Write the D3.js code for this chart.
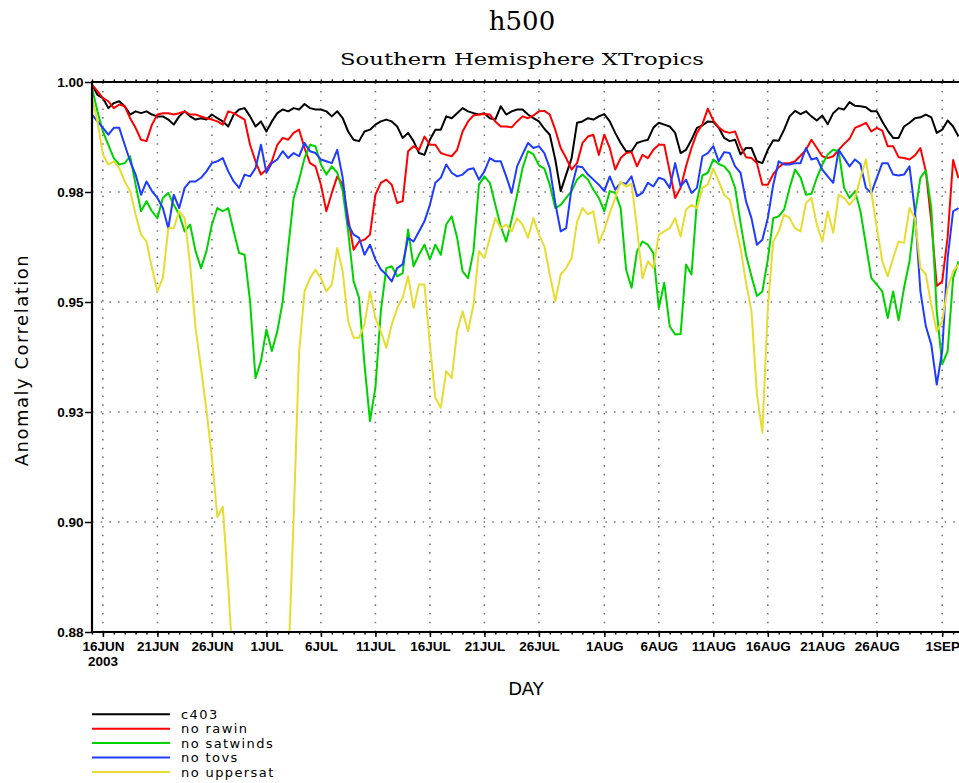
<!DOCTYPE html>
<html>
<head>
<meta charset="utf-8">
<script src="https://cdn.jsdelivr.net/npm/d3@7"></script>
<style>
  body { margin: 0; background: #fff; }
  svg { display: block; }
  .tick-label { font-family: "Liberation Sans", Arial, sans-serif; font-weight: bold; font-size: 13.5px; fill: #000; }
</style>
</head>
<body>
<svg id="chart" width="959" height="783"></svg>
<script>
// ---- data: 12-hourly anomaly correlation, starting 15 JUN 2003 00Z ----
const startTime = new Date(Date.UTC(2003, 5, 15, 0));
const stepHours = 12;

const seriesNames = ["c403", "no rawin", "no satwinds", "no tovs", "no uppersat"];

const c403 = [
  0.9994,0.9972,0.9965,0.9943,0.9954,0.9958,0.9947,0.9929,0.9936,0.9932,0.9936,0.9929,0.9925,0.9925,0.9918,0.9907,0.9925,0.9936,0.9925,0.9918,0.9921,0.9918,0.9929,0.9921,0.9914,0.9903,0.9929,
  0.9940,0.9943,0.9925,0.9903,0.9914,0.9892,0.9914,0.9932,0.9940,0.9936,0.9943,0.9940,0.9952,0.9943,0.9940,0.9940,0.9936,0.9925,0.9936,0.9921,0.9892,0.9874,0.9871,0.9892,0.9896,0.9907,0.9914,
  0.9918,0.9914,0.9903,0.9878,0.9889,0.9871,0.9845,0.9841,0.9874,0.9896,0.9896,0.9925,0.9921,0.9932,0.9943,0.9936,0.9932,0.9929,0.9932,0.9921,0.9918,0.9947,0.9929,0.9936,0.9940,0.9940,0.9929,
  0.9921,0.9914,0.9898,0.9885,0.9831,0.9762,0.9798,0.9834,0.9911,0.9914,0.9921,0.9918,0.9925,0.9930,0.9914,0.9889,0.9867,0.9849,0.9849,0.9867,0.9871,0.9874,0.9900,0.9911,0.9907,0.9903,0.9889,
  0.9845,0.9852,0.9874,0.9900,0.9905,0.9914,0.9913,0.9900,0.9878,0.9871,0.9874,0.9842,0.9856,0.9856,0.9827,0.9823,0.9852,0.9873,0.9872,0.9896,0.9925,0.9937,0.9930,0.9936,0.9925,0.9916,
  0.9927,0.9908,0.9932,0.9943,0.9940,0.9956,0.9948,0.9947,0.9945,0.9936,0.9936,0.9914,0.9894,0.9878,0.9878,0.9903,0.9911,0.9921,0.9923,0.9929,0.9923,0.9889,0.9896,0.9916,0.9903,0.9881
];

const noRawin = [
  0.9994,0.9980,0.9965,0.9958,0.9943,0.9951,0.9947,0.9921,0.9900,0.9874,0.9871,0.9907,0.9929,0.9932,0.9932,0.9929,0.9932,0.9936,0.9929,0.9929,0.9925,0.9921,0.9918,0.9914,0.9907,0.9936,0.9932,
  0.9925,0.9918,0.9863,0.9827,0.9798,0.9809,0.9827,0.9863,0.9878,0.9874,0.9889,0.9896,0.9856,0.9823,0.9816,0.9776,0.9718,0.9758,0.9794,0.9776,0.9703,0.9634,0.9652,0.9656,0.9667,0.9754,0.9780,
  0.9787,0.9776,0.9736,0.9740,0.9849,0.9860,0.9852,0.9881,0.9863,0.9863,0.9845,0.9841,0.9838,0.9852,0.9892,0.9914,0.9927,0.9929,0.9930,0.9929,0.9914,0.9903,0.9903,0.9901,0.9914,0.9925,0.9921,
  0.9927,0.9936,0.9937,0.9929,0.9896,0.9856,0.9834,0.9809,0.9823,0.9867,0.9881,0.9885,0.9841,0.9885,0.9856,0.9809,0.9834,0.9845,0.9847,0.9816,0.9841,0.9834,0.9852,0.9863,0.9863,0.9805,0.9747,
  0.9769,0.9816,0.9856,0.9889,0.9908,0.9942,0.9916,0.9901,0.9892,0.9889,0.9892,0.9860,0.9836,0.9834,0.9823,0.9776,0.9776,0.9799,0.9814,0.9823,0.9823,0.9827,0.9839,0.9852,0.9874,0.9856,
  0.9838,0.9834,0.9838,0.9852,0.9865,0.9876,0.9900,0.9905,0.9911,0.9892,0.9900,0.9894,0.9860,0.9860,0.9836,0.9834,0.9831,0.9840,0.9856,0.9805,0.9696,0.9555,0.9565,0.9662,0.9830,0.9790
];

const noSatwinds = [
  0.9987,0.9936,0.9892,0.9863,0.9834,0.9820,0.9823,0.9838,0.9776,0.9718,0.9740,0.9718,0.9703,0.9747,0.9758,0.9732,0.9711,0.9674,0.9689,0.9631,0.9594,0.9631,0.9689,0.9725,0.9718,0.9725,0.9674,
  0.9627,0.9623,0.9522,0.9354,0.9391,0.9460,0.9413,0.9456,0.9522,0.9638,0.9747,0.9787,0.9834,0.9863,0.9860,0.9820,0.9798,0.9816,0.9802,0.9762,0.9674,0.9565,0.9529,0.9384,0.9260,0.9333,0.9500,
  0.9594,0.9598,0.9576,0.9583,0.9678,0.9598,0.9623,0.9645,0.9613,0.9645,0.9623,0.9689,0.9707,0.9660,0.9587,0.9572,0.9631,0.9776,0.9794,0.9780,0.9732,0.9685,0.9652,0.9700,0.9754,0.9812,0.9849,
  0.9842,0.9818,0.9811,0.9776,0.9725,0.9732,0.9747,0.9762,0.9787,0.9798,0.9787,0.9765,0.9747,0.9718,0.9762,0.9758,0.9725,0.9591,0.9551,0.9631,0.9652,0.9645,0.9627,0.9507,0.9562,0.9467,0.9449,
  0.9450,0.9602,0.9580,0.9740,0.9796,0.9802,0.9831,0.9821,0.9816,0.9802,0.9769,0.9692,0.9623,0.9576,0.9533,0.9543,0.9613,0.9703,0.9707,0.9722,0.9769,0.9809,0.9792,0.9754,0.9756,0.9791,
  0.9820,0.9842,0.9852,0.9849,0.9769,0.9747,0.9762,0.9718,0.9645,0.9572,0.9558,0.9543,0.9485,0.9543,0.9480,0.9551,0.9609,0.9711,0.9791,0.9807,0.9725,0.9500,0.9384,0.9413,0.9572,0.9609
];

const noTovs = [
  0.9929,0.9914,0.9900,0.9885,0.9900,0.9900,0.9863,0.9827,0.9798,0.9754,0.9783,0.9762,0.9747,0.9725,0.9681,0.9754,0.9725,0.9769,0.9783,0.9783,0.9791,0.9805,0.9823,0.9827,0.9834,0.9805,0.9783,
  0.9769,0.9798,0.9794,0.9812,0.9863,0.9802,0.9823,0.9831,0.9849,0.9834,0.9845,0.9838,0.9867,0.9849,0.9845,0.9831,0.9827,0.9823,0.9852,0.9791,0.9689,0.9667,0.9660,0.9623,0.9645,0.9613,0.9591,
  0.9580,0.9565,0.9594,0.9602,0.9660,0.9652,0.9674,0.9696,0.9732,0.9780,0.9791,0.9820,0.9802,0.9794,0.9798,0.9809,0.9812,0.9787,0.9805,0.9834,0.9827,0.9827,0.9794,0.9758,0.9816,0.9842,0.9867,
  0.9856,0.9860,0.9845,0.9812,0.9736,0.9674,0.9681,0.9769,0.9816,0.9814,0.9798,0.9787,0.9776,0.9762,0.9794,0.9765,0.9780,0.9778,0.9794,0.9751,0.9758,0.9780,0.9772,0.9791,0.9787,0.9769,0.9823,
  0.9772,0.9787,0.9758,0.9769,0.9838,0.9845,0.9860,0.9827,0.9847,0.9845,0.9816,0.9802,0.9740,0.9703,0.9645,0.9656,0.9703,0.9776,0.9827,0.9820,0.9820,0.9823,0.9823,0.9856,0.9831,0.9834,
  0.9809,0.9794,0.9780,0.9852,0.9834,0.9816,0.9831,0.9821,0.9769,0.9758,0.9791,0.9823,0.9823,0.9798,0.9796,0.9798,0.9816,0.9718,0.9543,0.9467,0.9427,0.9340,0.9413,0.9616,0.9718,0.9725
];

const noUppersat = [
  0.9965,0.9914,0.9842,0.9820,0.9827,0.9812,0.9783,0.9762,0.9711,0.9667,0.9652,0.9594,0.9543,0.9572,0.9681,0.9681,0.9718,0.9703,0.9602,0.9463,0.9376,0.9284,0.9180,0.9051,0.9073,0.8900,0.8700,
  0.8620,0.8580,0.8550,0.8520,0.8500,0.8520,0.8550,0.8580,0.8620,0.8720,0.9050,0.9410,0.9543,0.9572,0.9590,0.9572,0.9543,0.9558,0.9638,0.9587,0.9478,0.9442,0.9442,0.9471,0.9543,0.9485,0.9456,
  0.9420,0.9471,0.9507,0.9529,0.9576,0.9507,0.9558,0.9558,0.9427,0.9311,0.9289,0.9369,0.9354,0.9456,0.9500,0.9456,0.9514,0.9631,0.9616,0.9660,0.9703,0.9681,0.9689,0.9674,0.9703,0.9689,0.9660,
  0.9703,0.9667,0.9642,0.9580,0.9522,0.9580,0.9594,0.9616,0.9695,0.9725,0.9711,0.9718,0.9649,0.9678,0.9714,0.9747,0.9782,0.9772,0.9778,0.9681,0.9572,0.9609,0.9594,0.9667,0.9674,0.9681,0.9703,
  0.9663,0.9722,0.9732,0.9725,0.9769,0.9776,0.9811,0.9783,0.9754,0.9743,0.9692,0.9638,0.9562,0.9500,0.9320,0.9235,0.9507,0.9652,0.9674,0.9711,0.9703,0.9681,0.9674,0.9736,0.9747,0.9689,
  0.9652,0.9718,0.9671,0.9754,0.9747,0.9732,0.9747,0.9791,0.9831,0.9758,0.9682,0.9609,0.9576,0.9616,0.9652,0.9649,0.9725,0.9703,0.9594,0.9580,0.9514,0.9456,0.9478,0.9550,0.9587,0.9602
];

const seriesValues = [c403, noRawin, noSatwinds, noTovs, noUppersat];

const yTickValues = [1.0, 0.976, 0.952, 0.928, 0.904, 0.88];
const yTickLabels = ["1.00", "0.98", "0.95", "0.93", "0.90", "0.88"];

const xTickDays = ["2003-06-16","2003-06-21","2003-06-26","2003-07-01","2003-07-06","2003-07-11","2003-07-16",
                   "2003-07-21","2003-07-26","2003-08-01","2003-08-06","2003-08-11","2003-08-16","2003-08-21",
                   "2003-08-26","2003-09-01"];
const xTickLabels = ["16JUN","21JUN","26JUN","1JUL","6JUL","11JUL","16JUL","21JUL","26JUL",
                     "1AUG","6AUG","11AUG","16AUG","21AUG","26AUG","1SEP"];

// ---- styling ----
const colors = ["#000000", "#ff0000", "#00d200", "#1e3cff", "#e6dc32"];
const W = 959, H = 783;
const plotLeft = 92, plotTop = 82, plotBottom = 632;
const pxPerDay = 10.9;
const spanDays = 80;

const svg = d3.select("#chart");

const x = d3.scaleUtc()
  .domain([startTime, d3.utcDay.offset(startTime, spanDays)])
  .range([plotLeft, plotLeft + spanDays * pxPerDay]);
const y = d3.scaleLinear().domain([0.88, 1.0]).range([plotBottom, plotTop]);

const xTickDates = xTickDays.map(s => new Date(s + "T00:00:00Z"));
const timeAt = i => new Date(startTime.getTime() + i * stepHours * 3600 * 1000);

svg.append("defs").append("clipPath").attr("id", "plotClip")
  .append("rect").attr("x", plotLeft).attr("y", plotTop)
  .attr("width", W - plotLeft + 20).attr("height", plotBottom - plotTop);

// dotted grid
const grid = svg.append("g").attr("stroke", "#7a7a7a").attr("stroke-width", 1.6)
  .attr("stroke-dasharray", "1.6,7.1");
grid.selectAll("line.v").data(xTickDates).join("line")
  .attr("x1", d => x(d)).attr("x2", d => x(d))
  .attr("y1", plotBottom).attr("y2", plotTop);
grid.selectAll("line.h").data(yTickValues.slice(1, -1)).join("line")
  .attr("x1", plotLeft).attr("x2", W)
  .attr("y1", d => y(d)).attr("y2", d => y(d));

// series lines
const line = d3.line().x((d, i) => x(timeAt(i))).y(d => y(d));
svg.append("g").attr("clip-path", "url(#plotClip)")
  .selectAll("path").data(seriesValues).join("path")
  .attr("d", d => line(d))
  .attr("fill", "none")
  .attr("stroke", (d, i) => colors[i])
  .attr("stroke-width", 2)
  .attr("stroke-linejoin", "round");

// daily minor ticks on bottom and top frame
const dayTicks = d3.utcDay.range(startTime, d3.utcDay.offset(startTime, spanDays));
svg.append("g").attr("transform", `translate(0,${plotBottom})`)
  .call(d3.axisBottom(x).tickValues(dayTicks).tickSize(2.5).tickFormat(""))
  .call(g => g.select(".domain").remove())
  .selectAll("line").attr("stroke-width", 1.5);
svg.append("g").attr("transform", `translate(0,${plotTop})`)
  .call(d3.axisTop(x).tickValues(dayTicks).tickSize(2.5).tickFormat(""))
  .call(g => g.select(".domain").remove())
  .selectAll("line").attr("stroke-width", 1.5);

// x axis
const xAxis = svg.append("g").attr("transform", `translate(0,${plotBottom})`)
  .call(d3.axisBottom(x).tickValues(xTickDates).tickSize(5).tickPadding(4).tickSizeOuter(0)
    .tickFormat((d, i) => xTickLabels[i]));
xAxis.select(".domain").remove();
xAxis.selectAll("line").attr("stroke-width", 1.5);
xAxis.selectAll("text").attr("class", "tick-label").attr("font-size", null).attr("font-family", null);
xAxis.append("text").attr("class", "tick-label")
  .attr("x", x(xTickDates[0])).attr("y", 34).attr("text-anchor", "middle").text("2003");

// y axis
const yAxis = svg.append("g").attr("transform", `translate(${plotLeft},0)`)
  .call(d3.axisLeft(y).tickValues(yTickValues).tickSize(7).tickPadding(1.5).tickSizeOuter(0)
    .tickFormat((d, i) => yTickLabels[i]));
yAxis.select(".domain").remove();
yAxis.selectAll("line").attr("stroke-width", 1.5);
yAxis.selectAll("text").attr("class", "tick-label").attr("font-size", null).attr("font-family", null);

// frame
const frame = svg.append("g").attr("stroke", "#000").attr("stroke-width", 2.2);
frame.append("line").attr("x1", plotLeft).attr("x2", plotLeft).attr("y1", plotTop - 1).attr("y2", plotBottom + 1);
frame.append("line").attr("x1", plotLeft).attr("x2", W).attr("y1", plotBottom).attr("y2", plotBottom);
frame.append("line").attr("x1", plotLeft).attr("x2", W).attr("y1", plotTop).attr("y2", plotTop);

// titles
svg.append("text").attr("x", 522).attr("y", 30).attr("text-anchor", "middle")
  .attr("font-family", "DejaVu Serif, serif").attr("font-size", 26).text("h500");
svg.append("text").attr("x", 522).attr("y", 65).attr("text-anchor", "middle")
  .attr("font-family", "DejaVu Serif, serif").attr("font-size", 17)
  .attr("textLength", 364).attr("lengthAdjust", "spacingAndGlyphs")
  .text("Southern Hemisphere XTropics");
svg.append("text").attr("transform", "translate(28,360) rotate(-90)").attr("text-anchor", "middle")
  .attr("font-family", "DejaVu Sans, sans-serif").attr("font-size", 18).attr("letter-spacing", 1.5)
  .text("Anomaly Correlation");
svg.append("text").attr("x", 526).attr("y", 695).attr("text-anchor", "middle")
  .attr("font-family", "DejaVu Sans, sans-serif").attr("font-size", 18).text("DAY");

// legend
const legend = svg.append("g").selectAll("g").data(seriesNames).join("g")
  .attr("transform", (d, i) => `translate(92,${714.3 + i * 14.4})`);
legend.append("line").attr("x1", 0).attr("x2", 78)
  .attr("stroke", (d, i) => colors[i]).attr("stroke-width", 2);
legend.append("text").attr("x", 89).attr("y", 4.6)
  .attr("font-family", "DejaVu Sans, sans-serif").attr("font-size", 13).attr("letter-spacing", 1.4)
  .text(d => d);
</script>
</body>
</html>
